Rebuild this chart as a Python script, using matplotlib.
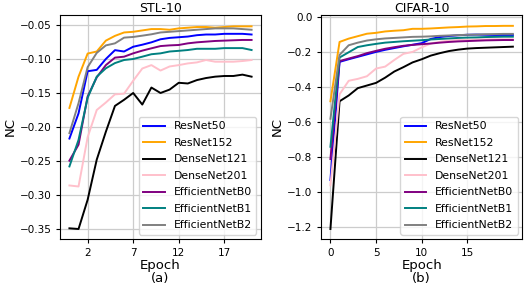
import matplotlib
matplotlib.use("Agg")
import matplotlib.pyplot as plt
import numpy as np

epochs = list(range(21))
models = ["ResNet50", "ResNet152", "DenseNet121", "DenseNet201",
          "EfficientNetB0", "EfficientNetB1", "EfficientNetB2"]
colors = ["blue", "orange", "black", "pink", "purple", "teal", "gray"]

# STL-10
stl_resnet50 = [-0.217, -0.180, -0.118, -0.116, -0.100, -0.087, -0.089, -0.082, -0.079, -0.0755, -0.071,
                -0.069, -0.068, -0.067, -0.065, -0.064, -0.064, -0.063, -0.063, -0.063, -0.064]
stl_resnet152 = [-0.172, -0.126, -0.092, -0.089, -0.073, -0.066, -0.061, -0.060, -0.058, -0.056, -0.056,
                 -0.057, -0.055, -0.054, -0.053, -0.053, -0.054, -0.053, -0.052, -0.052, -0.052]
stl_densenet121 = [-0.349, -0.350, -0.307, -0.248, -0.207, -0.169, -0.160, -0.150, -0.167, -0.142, -0.150,
                   -0.145, -0.135, -0.136, -0.131, -0.128, -0.126, -0.125, -0.125, -0.123, -0.126]
stl_densenet201 = [-0.286, -0.2875, -0.215, -0.175, -0.164, -0.152, -0.151, -0.132, -0.114, -0.109, -0.117,
                   -0.111, -0.109, -0.1065, -0.105, -0.1015, -0.104, -0.104, -0.104, -0.103, -0.1015]
stl_effb0 = [-0.2495, -0.226, -0.155, -0.127, -0.109, -0.098, -0.0966, -0.0917, -0.0877, -0.0843, -0.081,
             -0.080, -0.0794, -0.077, -0.0755, -0.0745, -0.0735, -0.073, -0.0725, -0.072, -0.072]
stl_effb1 = [-0.258, -0.219, -0.157, -0.126, -0.1137, -0.106, -0.1015, -0.100, -0.0966, -0.093, -0.0917,
             -0.089, -0.088, -0.0868, -0.085, -0.085, -0.085, -0.084, -0.084, -0.084, -0.0868]
stl_effb2 = [-0.209, -0.165, -0.112, -0.091, -0.080, -0.077, -0.0686, -0.0676, -0.0657, -0.0637, -0.061,
             -0.060, -0.059, -0.058, -0.057, -0.056, -0.055, -0.055, -0.055, -0.056, -0.057]

# CIFAR-10
cif_resnet50 = [-0.93, -0.255, -0.240, -0.226, -0.212, -0.198, -0.186, -0.176, -0.166, -0.157, -0.148,
                -0.124, -0.113, -0.107, -0.103, -0.100, -0.099, -0.100, -0.101, -0.101, -0.101]
cif_resnet152 = [-0.48, -0.141, -0.122, -0.108, -0.094, -0.089, -0.081, -0.077, -0.074, -0.066, -0.066,
                 -0.064, -0.061, -0.058, -0.056, -0.053, -0.052, -0.050, -0.050, -0.049, -0.049]
cif_densenet121 = [-1.21, -0.48, -0.447, -0.405, -0.390, -0.375, -0.345, -0.310, -0.285, -0.258, -0.240,
                   -0.219, -0.205, -0.193, -0.185, -0.179, -0.176, -0.174, -0.172, -0.170, -0.168]
cif_densenet201 = [-0.96, -0.44, -0.363, -0.352, -0.337, -0.293, -0.282, -0.244, -0.209, -0.198, -0.172,
                   -0.150, -0.140, -0.134, -0.130, -0.128, -0.127, -0.127, -0.126, -0.126, -0.126]
cif_effb0 = [-0.81, -0.250, -0.236, -0.222, -0.205, -0.192, -0.180, -0.171, -0.163, -0.158, -0.154,
             -0.150, -0.145, -0.141, -0.138, -0.136, -0.134, -0.132, -0.131, -0.130, -0.130]
cif_effb1 = [-0.74, -0.230, -0.200, -0.170, -0.160, -0.152, -0.145, -0.141, -0.137, -0.134, -0.131,
             -0.127, -0.124, -0.121, -0.118, -0.116, -0.115, -0.113, -0.112, -0.111, -0.111]
cif_effb2 = [-0.58, -0.215, -0.160, -0.145, -0.133, -0.126, -0.121, -0.118, -0.115, -0.112, -0.111,
             -0.109, -0.106, -0.104, -0.102, -0.100, -0.099, -0.097, -0.096, -0.095, -0.095]

stl_series = [stl_resnet50, stl_resnet152, stl_densenet121, stl_densenet201, stl_effb0, stl_effb1, stl_effb2]
cif_series = [cif_resnet50, cif_resnet152, cif_densenet121, cif_densenet201, cif_effb0, cif_effb1, cif_effb2]

stl_xticks = [2, 7, 12, 17]
stl_yticks = [-0.35, -0.30, -0.25, -0.20, -0.15, -0.10, -0.05]
cif_xticks = [0, 5, 10, 15]
cif_yticks = [-1.2, -1.0, -0.8, -0.6, -0.4, -0.2, 0.0]

plt.rcParams['font.family'] = ['DejaVu Sans']

fig = plt.figure(figsize=(5.24, 2.90), dpi=100)
ax1 = fig.add_axes([0.1151, 0.1759, 0.3824, 0.7724])
ax2 = fig.add_axes([0.6132, 0.1759, 0.3830, 0.7724])

panels = [
    (ax1, stl_series, "STL-10", "Epoch\n(a)", stl_xticks, stl_yticks, (-0.3647, -0.0353), ["%.2f" % t for t in stl_yticks]),
    (ax2, cif_series, "CIFAR-10", "Epoch\n(b)", cif_xticks, cif_yticks, (-1.267, 0.013), ["%.1f" % t for t in cif_yticks]),
]

for ax, series, title, xlabel, xt, yt, ylim, ylabels in panels:
    for name, col, vals in zip(models, colors, series):
        ax.plot(epochs, vals, color=col, linewidth=1.4, label=name)
    ax.set_xlim(-1, 21)
    ax.set_ylim(*ylim)
    ax.set_xticks(xt)
    ax.set_yticks(yt)
    ax.set_yticklabels([l.replace("-", "\u2212") for l in ylabels])
    ax.grid(True, color="#cccccc", linewidth=0.9)
    ax.set_axisbelow(True)
    ax.tick_params(labelsize=7.5, length=3, width=0.8)
    ax.set_title(title, fontsize=9.0, pad=2.5)
    ax.set_xlabel(xlabel, fontsize=9.5, labelpad=1, linespacing=1.0)
    ax.set_ylabel("NC", fontsize=9.5, labelpad=2)
    leg = ax.legend(loc="lower right", fontsize=7.8, labelspacing=0.6,
                    handlelength=2.0, borderaxespad=0.4)

fig.savefig("out.png", dpi=100)
